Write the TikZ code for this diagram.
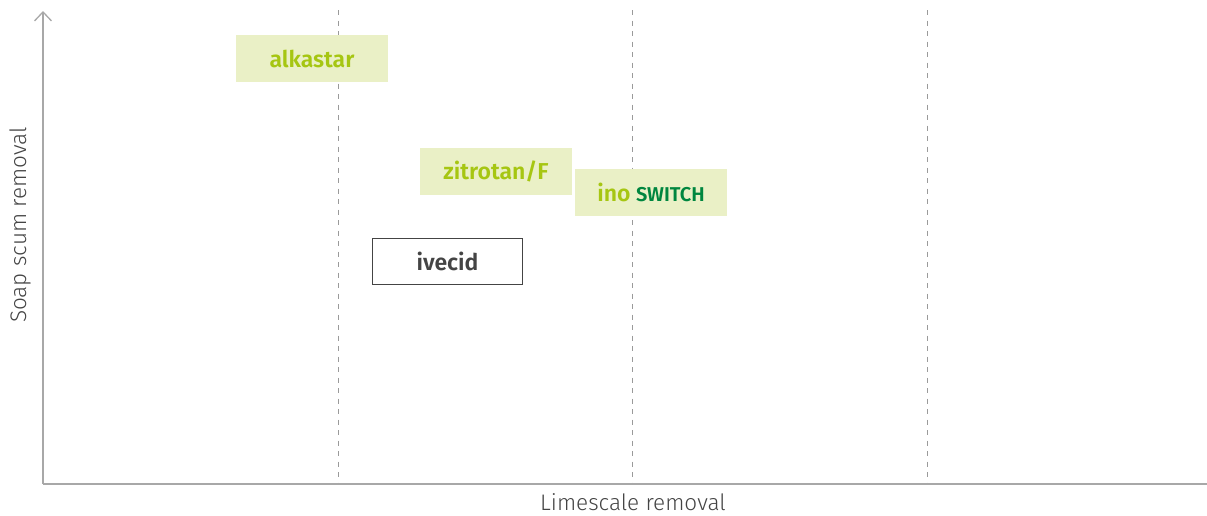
\documentclass[tikz,border=0pt]{standalone}
\usepackage{fontspec}
\setmainfont{Fira Sans}
\newfontfamily\lightfont{Fira Sans}[UprightFont=* Light]
\newfontfamily\semifont{Fira Sans}[UprightFont=* SemiBold]
\usetikzlibrary{arrows.meta}
\definecolor{axisgray}{HTML}{A8A8A8}
\definecolor{dashgray}{HTML}{9A9A9A}
\definecolor{boxfill}{HTML}{EAF0C6}
\definecolor{lime}{HTML}{A6C612}
\definecolor{darkgreen}{HTML}{00863F}
\definecolor{txtgray}{HTML}{444444}
\tikzset{
  axisline/.style={draw=axisgray, line width=1.3pt, -{Straight Barb[length=9pt,width=17pt,line width=1.3pt]}},
  gridline/.style={draw=dashgray, line width=1pt, dash pattern=on 5pt off 5.5pt},
  prodbox/.style={fill=boxfill, minimum width=152pt, minimum height=47pt, inner sep=0pt, text=lime, font=\semifont\fontsize{23}{26}\selectfont},
  plainbox/.style={draw=txtgray, fill=white, line width=1.2pt, minimum width=150pt, minimum height=46pt, inner sep=0pt, text=txtgray, font=\semifont\fontsize{23}{26}\selectfont},
  axislabel/.style={text=txtgray, font=\lightfont\fontsize{22.5}{26}\selectfont, inner sep=0pt}
}
\begin{document}
\begin{tikzpicture}[x=1pt,y=-1pt]
\useasboundingbox (0,0) rectangle (1207,515);
\coordinate (o) at (43,484);
\coordinate (ytop) at (43,11);
\coordinate (xend) at (1218,484);
\foreach \x [count=\i] in {338,632,927}{
  \coordinate (g\i t) at (\x,10);
  \coordinate (g\i b) at (\x,484);
  \draw[gridline] (g\i t) -- (g\i b);
}
\draw[axisline] (o) -- (ytop);
\draw[axisline] (o) -- (xend);
\node[prodbox] (alkastar) at (312,58.5) {alkastar};
\node[prodbox] (zitrotan) at (496,171.5) {zitrotan/F};
\node[prodbox] (ino) at (651,192.5) {ino \textcolor{darkgreen}{\fontsize{20}{23}\selectfont SWITCH}};
\node[plainbox] (ivecid) at (447.5,261.5) {ivecid};
\node[axislabel, rotate=90] (ylab) at (20,225) {Soap scum removal};
\node[axislabel] (xlab) at (633,502) {Limescale removal};
\end{tikzpicture}
\end{document}
